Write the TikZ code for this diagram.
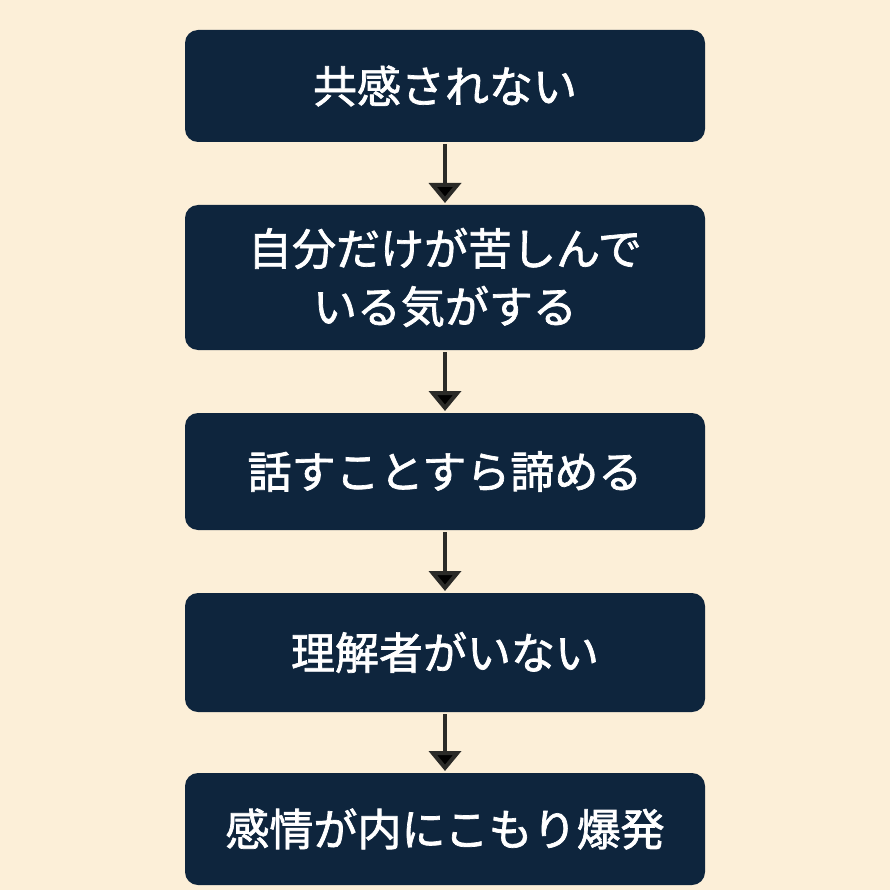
\documentclass[tikz,border=0pt]{standalone}
\usepackage{fontspec}
\newfontfamily\cjk[AutoFakeBold=1.6]{Noto Sans CJK JP}
\usetikzlibrary{arrows.meta}
\definecolor{bgcream}{HTML}{FCEFD8}
\definecolor{boxnavy}{HTML}{0E253D}
\definecolor{arrowdark}{HTML}{2B2B28}
\begin{document}
\begin{tikzpicture}[x=1pt, y=-1pt, ->, >={Triangle[length=20pt, width=32pt]}, line width=4pt,
	every node/.style={font=\cjk\bfseries\fontsize{44}{58}\selectfont, text=white},
	stepbox/.style={fill=boxnavy, draw=none, rounded corners=13pt, minimum width=520pt, align=center, inner sep=0pt}]
		\fill[bgcream] (0, 0) rectangle (890, 890);
		\useasboundingbox (0, 0) rectangle (890, 890);
		
		\node[stepbox, minimum height=112pt] (1) at (445, 86) {共感されない};
		\node[stepbox, minimum height=145pt] (2) at (445, 277.5) {自分だけが苦しんで\\いる気がする};
		\node[stepbox, minimum height=117pt] (3) at (445, 471.5) {話すことすら諦める};
		\node[stepbox, minimum height=119pt] (4) at (445, 652.5) {理解者がいない};
		\node[stepbox, minimum height=112pt] (5) at (445, 829) {感情が内にこもり爆発};
		
		\path[draw=arrowdark] (1) edge (2)
			(2) edge (3)
			(3) edge (4)
			(4) edge (5);
	\end{tikzpicture}
\end{document}
